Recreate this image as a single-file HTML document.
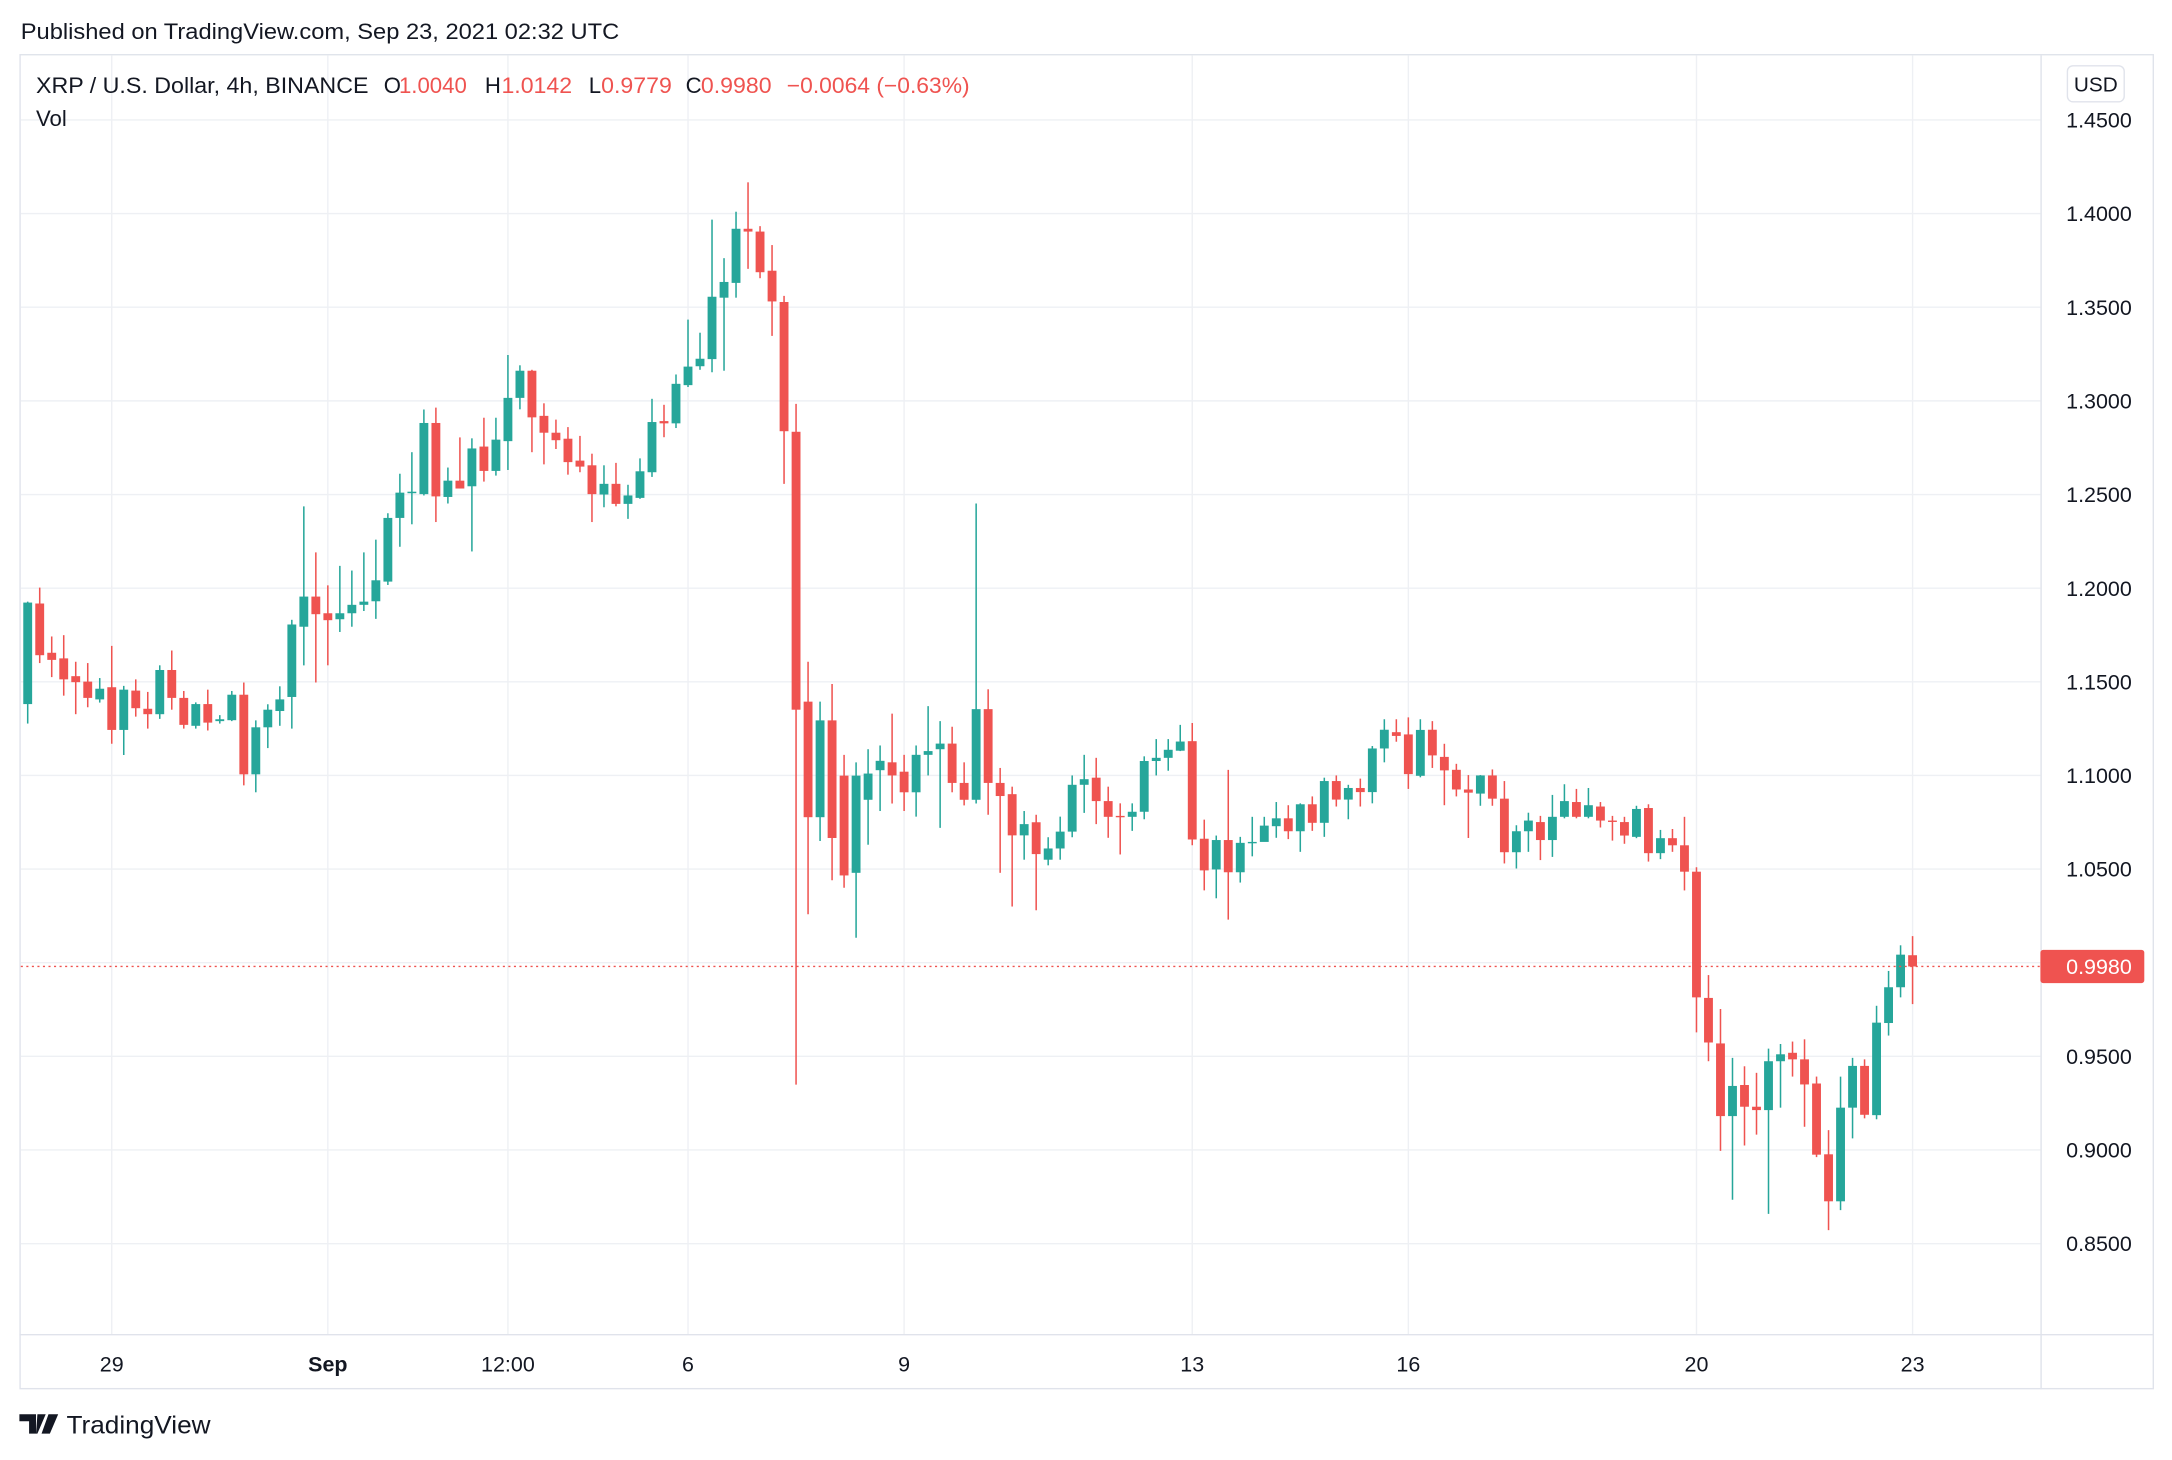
<!DOCTYPE html>
<html><head><meta charset="utf-8"><style>
html,body{margin:0;padding:0;background:#fff;}
svg{display:block;font-family:"Liberation Sans",sans-serif;}
</style></head><body>
<svg id="chart" width="2172" height="1460" viewBox="0 0 1568 1054" preserveAspectRatio="none" xmlns="http://www.w3.org/2000/svg">
<rect x="0" y="0" width="1568" height="1054" fill="#fff"/>
<text x="15" y="28" font-size="16" fill="#131722" textLength="432" lengthAdjust="spacingAndGlyphs">Published on TradingView.com, Sep 23, 2021 02:32 UTC</text>
<rect x="14.5" y="39.5" width="1540" height="963" fill="none" stroke="#e0e3eb" stroke-width="1"/>
<g id="grid"></g>
<g id="candles"></g>
<line x1="1473.5" y1="40" x2="1473.5" y2="1003" stroke="#e0e3eb"/>
<line x1="14" y1="963.5" x2="1555" y2="963.5" stroke="#e0e3eb"/>
<g id="yaxis"></g>
<g id="xaxis"></g>
<g font-size="16">
<text x="26" y="67" fill="#131722" textLength="240" lengthAdjust="spacingAndGlyphs">XRP / U.S. Dollar, 4h, BINANCE</text>
<text x="277" y="67" fill="#131722">O</text><text x="288" y="67" fill="#ef5350" textLength="49" lengthAdjust="spacingAndGlyphs">1.0040</text>
<text x="350" y="67" fill="#131722">H</text><text x="362" y="67" fill="#ef5350" textLength="51" lengthAdjust="spacingAndGlyphs">1.0142</text>
<text x="425" y="67" fill="#131722">L</text><text x="434" y="67" fill="#ef5350" textLength="51" lengthAdjust="spacingAndGlyphs">0.9779</text>
<text x="495" y="67" fill="#131722">C</text><text x="506" y="67" fill="#ef5350" textLength="51" lengthAdjust="spacingAndGlyphs">0.9980</text>
<text x="568" y="67" fill="#ef5350" textLength="132" lengthAdjust="spacingAndGlyphs">−0.0064 (−0.63%)</text>
<text x="26" y="91" fill="#131722">Vol</text>
</g>
<g>
<rect x="1492.5" y="47.5" width="41" height="26" rx="4" fill="#fff" stroke="#e0e3eb"/>
<text x="1513" y="66" font-size="15" fill="#131722" text-anchor="middle">USD</text>
</g>
<g>
<path d="M14 1021h12v14h-5v-9h-7z M27 1021h6l-6 14h-1z M35 1021h7l-6 14h-6z" fill="#131722"/>
<text x="48" y="1035" font-size="18" fill="#131722" textLength="104" lengthAdjust="spacingAndGlyphs">TradingView</text>
</g>
</svg>
<script>
const opens=[1.1381,1.1918,1.1655,1.1625,1.1530,1.1501,1.1406,1.1471,1.1243,1.1453,1.1356,1.1327,1.1563,1.1414,1.1265,1.1381,1.1290,1.1295,1.1431,1.1006,1.1257,1.1344,1.1419,1.1794,1.1955,1.1866,1.1834,1.1866,1.1911,1.1930,1.2035,1.2375,1.2507,1.2502,1.2882,1.2487,1.2574,1.2544,1.2756,1.2626,1.2785,1.3016,1.3161,1.2920,1.2830,1.2798,1.2681,1.2656,1.2500,1.2557,1.2450,1.2482,1.2619,1.2892,1.2880,1.3084,1.3185,1.3223,1.3551,1.3630,1.3919,1.3904,1.3695,1.3528,1.2835,1.1394,1.0777,1.1294,1.0999,1.0480,1.0870,1.1028,1.1070,1.1020,1.0910,1.1110,1.1140,1.1170,1.0960,1.0870,1.1354,1.0960,1.0900,1.0680,1.0750,1.0550,1.0610,1.0700,1.0950,1.0988,1.0863,1.0784,1.0779,1.0806,1.1077,1.1094,1.1132,1.1183,1.0662,1.0498,1.0655,1.0483,1.0640,1.0645,1.0729,1.0771,1.0702,1.0846,1.0747,1.0970,1.0871,1.0933,1.0911,1.1144,1.1231,1.1219,1.0998,1.1244,1.1099,1.1030,1.0925,1.0903,1.1000,1.0876,1.0590,1.0702,1.0751,1.0655,1.0779,1.0858,1.0779,1.0834,1.0759,1.0751,1.0672,1.0826,1.0585,1.0665,1.0627,1.0486,0.9812,0.9569,0.9181,0.9347,0.9231,0.9213,0.9474,0.9519,0.9484,0.9355,0.8977,0.8726,0.9226,0.9449,0.9186,0.9678,0.9869,1.0040];
const highs=[1.1928,1.2003,1.1742,1.1749,1.1607,1.1600,1.1520,1.1692,1.1478,1.1513,1.1446,1.1588,1.1667,1.1451,1.1390,1.1458,1.1322,1.1451,1.1496,1.1294,1.1380,1.1476,1.1831,1.2437,1.2191,1.2015,1.2119,1.2094,1.2191,1.2259,1.2400,1.2611,1.2726,1.2954,1.2964,1.2644,1.2805,1.2800,1.2910,1.2910,1.3245,1.3190,1.3166,1.2987,1.2900,1.2860,1.2813,1.2718,1.2656,1.2669,1.2552,1.2693,1.3011,1.2979,1.3141,1.3434,1.3364,1.3968,1.3762,1.4010,1.4167,1.3933,1.3832,1.3561,1.2984,1.1607,1.1394,1.1488,1.1110,1.1070,1.1140,1.1160,1.1330,1.1110,1.1160,1.1370,1.1290,1.1260,1.1070,1.2452,1.1460,1.1040,1.0940,1.0810,1.0790,1.0670,1.0780,1.1000,1.1110,1.1094,1.0940,1.0851,1.0851,1.1102,1.1194,1.1194,1.1270,1.1280,1.0764,1.0679,1.1030,1.0672,1.0779,1.0779,1.0858,1.0841,1.0851,1.0888,1.0988,1.1000,1.0950,1.0983,1.1157,1.1300,1.1300,1.1310,1.1300,1.1290,1.1169,1.1062,1.1002,1.1002,1.1032,1.0970,1.0734,1.0801,1.0784,1.0896,1.0953,1.0928,1.0933,1.0858,1.0784,1.0779,1.0838,1.0846,1.0709,1.0714,1.0779,1.0510,0.9934,0.9753,0.9492,0.9447,0.9412,0.9541,0.9566,0.9579,0.9591,0.9392,0.9106,0.9392,0.9492,0.9484,0.9770,0.9956,1.0093,1.0142];
const lows=[1.1277,1.1600,1.1525,1.1426,1.1327,1.1364,1.1389,1.1169,1.1109,1.1314,1.1250,1.1302,1.1351,1.1250,1.1250,1.1240,1.1277,1.1290,1.0947,1.0910,1.1146,1.1265,1.1250,1.1588,1.1496,1.1588,1.1766,1.1794,1.1878,1.1836,1.2017,1.2221,1.2341,1.2495,1.2353,1.2452,1.2532,1.2196,1.2569,1.2601,1.2631,1.2955,1.2726,1.2661,1.2743,1.2606,1.2619,1.2353,1.2432,1.2437,1.2370,1.2477,1.2594,1.2806,1.2855,1.3074,1.3166,1.3153,1.3161,1.3551,1.3705,1.3655,1.3347,1.2557,0.9349,1.0259,1.0650,1.0440,1.0400,1.0133,1.0630,1.0810,1.0850,1.0810,1.0780,1.1000,1.0720,1.0910,1.0840,1.0850,1.0790,1.0480,1.0300,1.0550,1.0280,1.0520,1.0550,1.0670,1.0800,1.0740,1.0667,1.0578,1.0704,1.0766,1.1000,1.1025,1.1130,1.0627,1.0386,1.0344,1.0230,1.0428,1.0568,1.0647,1.0667,1.0660,1.0592,1.0704,1.0672,1.0834,1.0766,1.0834,1.0851,1.1070,1.1180,1.0928,1.0990,1.1040,1.0841,1.0888,1.0666,1.0838,1.0838,1.0530,1.0503,1.0592,1.0548,1.0565,1.0771,1.0771,1.0771,1.0722,1.0652,1.0635,1.0665,1.0540,1.0553,1.0592,1.0386,0.9628,0.9474,0.8995,0.8734,0.9024,0.9082,0.8659,0.9226,0.9392,0.9124,0.8962,0.8572,0.8679,0.9062,0.9169,0.9164,0.9611,0.9815,0.9779];
const closes=[1.1923,1.1642,1.1617,1.1513,1.1498,1.1414,1.1463,1.1243,1.1458,1.1359,1.1327,1.1563,1.1414,1.1270,1.1381,1.1282,1.1300,1.1431,1.1006,1.1257,1.1351,1.1406,1.1806,1.1955,1.1861,1.1829,1.1866,1.1911,1.1928,1.2042,1.2375,1.2510,1.2515,1.2882,1.2490,1.2574,1.2532,1.2746,1.2626,1.2793,1.3016,1.3161,1.2912,1.2830,1.2790,1.2673,1.2649,1.2502,1.2557,1.2450,1.2495,1.2624,1.2887,1.2880,1.3091,1.3183,1.3225,1.3556,1.3635,1.3919,1.3904,1.3687,1.3531,1.2838,1.1351,1.0777,1.1294,1.0666,1.0466,1.0999,1.1010,1.1078,1.1000,1.0910,1.1110,1.1130,1.1170,1.0960,1.0870,1.1354,1.0960,1.0890,1.0680,1.0740,1.0580,1.0610,1.0700,1.0950,1.0980,1.0863,1.0779,1.0779,1.0806,1.1077,1.1094,1.1137,1.1181,1.0658,1.0493,1.0655,1.0483,1.0640,1.0645,1.0732,1.0771,1.0702,1.0846,1.0747,1.0970,1.0871,1.0933,1.0911,1.1144,1.1244,1.1211,1.1007,1.1243,1.1107,1.1027,1.0925,1.0908,1.1000,1.0876,1.0590,1.0702,1.0759,1.0655,1.0779,1.0863,1.0779,1.0841,1.0759,1.0754,1.0679,1.0821,1.0585,1.0665,1.0627,1.0486,0.9815,0.9574,0.9181,0.9342,0.9231,0.9213,0.9474,0.9511,0.9484,0.9350,0.8975,0.8726,0.9226,0.9449,0.9188,0.9680,0.9869,1.0043,0.9980];
const priceTicks=[1.45,1.40,1.35,1.30,1.25,1.20,1.15,1.10,1.05,0.95,0.90,0.85];
const timeTickLabels=["29","Sep","12:00","6","9","13","16","20","23"];
const timeTickIndex=[7,25,40,55,73,97,115,139,157];
const lastPrice=0.9980;

const NS="http://www.w3.org/2000/svg";
const X0=20, STEP=8.667, Y1=695, PPU=1352;
function xs(i){return X0+i*STEP;}
function ys(p){return Y1-(p-1)*PPU;}
function mk(tag,attrs,parent){const e=document.createElementNS(NS,tag);for(const k in attrs)e.setAttribute(k,attrs[k]);parent.appendChild(e);return e;}

const grid=document.getElementById('grid');
const yaxis=document.getElementById('yaxis');
const xaxis=document.getElementById('xaxis');
const cg=document.getElementById('candles');

priceTicks.forEach(p=>{
  const y=ys(p);
  const gl=mk('line',{x1:15,x2:1473,y1:y,y2:y,stroke:'#eef0f4','stroke-width':1},grid);
  
  
  const t=mk('text',{x:1539,y:y+5.5,'font-size':15.5,fill:'#131722','text-anchor':'end'},yaxis);
  
  
  t.textContent=p.toFixed(4);
});
const g1=mk('line',{x1:15,x2:1473,y1:ys(1.0),y2:ys(1.0),stroke:'#eef0f4','stroke-width':1},grid);



timeTickLabels.forEach((lab,k)=>{
  const x=xs(timeTickIndex[k]);
  const gl=mk('line',{x1:x,x2:x,y1:40,y2:963,stroke:'#eef0f4','stroke-width':1},grid);
  
  
  const t=mk('text',{x:x,y:990,'font-size':15.5,fill:'#131722','text-anchor':'middle','font-weight':lab==='Sep'?'bold':'normal'},xaxis);
  
  
  t.textContent=lab;
});

opens.forEach((o,i)=>{
  const c=closes[i],h=highs[i],l=lows[i];
  const col=c>=o?'#26a69a':'#ef5350';
  const x=xs(i);
  const g=mk('g',{},cg);
  
  
  mk('line',{x1:x,x2:x,y1:ys(h),y2:ys(l),stroke:col,'stroke-width':1.1},g);
  const top=ys(Math.max(o,c)),bot=ys(Math.min(o,c));
  mk('rect',{x:x-3.2,y:top,width:6.4,height:Math.max(1,bot-top),fill:col},g);
});

const ly=ys(lastPrice);
const pl=mk('line',{x1:15,x2:1473,y1:ly,y2:ly,stroke:'#ef5350','stroke-width':1,'stroke-dasharray':'1.5 2.5'},cg);


const pb=mk('rect',{x:1473,y:ly-12,width:75,height:24,rx:2,fill:'#ef5350'},yaxis);


const pt=mk('text',{x:1539,y:ly+5.5,'font-size':15.5,fill:'#fff','text-anchor':'end'},yaxis);


pt.textContent=lastPrice.toFixed(4);
</script>
</body></html>
